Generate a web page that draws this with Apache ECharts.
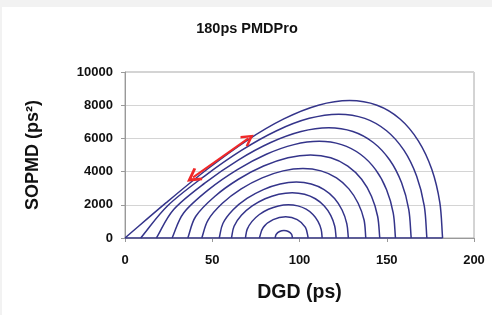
<!DOCTYPE html>
<html>
<head>
<meta charset="utf-8">
<script src="https://cdn.jsdelivr.net/npm/echarts@6/dist/echarts.min.js"></script>
<style>
html,body{margin:0;padding:0;background:#f2f2f2;width:492px;height:315px;overflow:hidden;}
#chart{position:absolute;left:2px;top:7px;width:490px;height:308px;background:#fff;}
</style>
</head>
<body>
<div id="chart"></div>
<script>
// DGD (ps) and SOPMD (ps^2) values, one pair of arrays per curve
var dgd1 = [182, 180.4, 175.8, 168.1, 157.6, 144.4, 128.7, 110.8, 91, 69.6, 47.1, 23.8, 0];
var sop1 = [0, 2143, 4141, 5856, 7172, 7999, 8281, 7999, 7172, 5856, 4141, 2143, 0];
var dgd2 = [173, 171.5, 167.1, 159.9, 149.9, 137.4, 122.5, 105.6, 86.9, 66.7, 45.6, 24.3, 9];
var sop2 = [0, 1931, 3731, 5276, 6462, 7208, 7462, 7208, 6462, 5276, 3731, 1931, 0];
var dgd3 = [164, 162.6, 158.5, 151.7, 142.3, 130.6, 116.7, 100.9, 83.5, 64.9, 45.9, 27.9, 18];
var sop3 = [0, 1719, 3322, 4697, 5753, 6416, 6643, 6416, 5753, 4697, 3322, 1719, 0];
var dgd4 = [155, 153.7, 149.9, 143.6, 134.9, 124.1, 111.3, 96.8, 81.0, 64.4, 47.9, 33.6, 27];
var sop4 = [0, 1507, 2912, 4118, 5044, 5625, 5824, 5625, 5044, 4118, 2912, 1507, 0];
var dgd5 = [146, 144.8, 141.3, 135.6, 127.7, 117.9, 106.3, 93.4, 79.4, 65.0, 51.4, 40.5, 36];
var sop5 = [0, 1295, 2503, 3539, 4334, 4834, 5005, 4834, 4334, 3539, 2503, 1295, 0];
var dgd6 = [138, 137.0, 133.6, 128.3, 121.2, 112.3, 102.0, 90.6, 78.6, 66.6, 55.8, 47.6, 44];
var sop6 = [0, 1083, 2093, 2960, 3625, 4043, 4186, 4043, 3625, 2960, 2093, 1083, 0];
var dgd7 = [128, 127.1, 124.4, 120.1, 114.1, 106.7, 98.2, 88.9, 79.3, 69.9, 61.8, 56.1, 54];
var sop7 = [0, 871, 1684, 2381, 2916, 3252, 3367, 3252, 2916, 2381, 1684, 871, 0];
var dgd8 = [121, 120.2, 117.9, 114.2, 109.1, 102.9, 95.8, 88.1, 80.3, 72.9, 66.7, 62.5, 61];
var sop8 = [0, 707, 1365, 1930, 2364, 2637, 2730, 2637, 2364, 1930, 1365, 707, 0];
var dgd9 = [113, 112.4, 110.6, 107.7, 103.8, 99.0, 93.6, 87.9, 82.2, 77.0, 72.8, 70.0, 69];
var sop9 = [0, 518, 1001, 1416, 1734, 1934, 2002, 1934, 1734, 1416, 1001, 518, 0];
var dgd10 = [105, 103.4, 98.7, 92.1, 84.9, 79.2, 77];
var sop10 = [0, 637, 1103, 1274, 1103, 637, 0];
var dgd11 = [96, 95.4, 93.6, 91.1, 88.6, 86.7, 86];
var sop11 = [0, 228, 394, 455, 394, 228, 0];
// baseline drawn under the curves
var baseDgd = [0, 182];
var baseSop = [0, 0];
// red double-headed arrow end points
var arrowDgd = [39, 70.7];
var arrowSop = [3650, 6000];
// axis ticks
var xTicks = [0, 50, 100, 150, 200];
var yTicks = [0, 2000, 4000, 6000, 8000, 10000];

var curvesX = [dgd1, dgd2, dgd3, dgd4, dgd5, dgd6, dgd7, dgd8, dgd9, dgd10, dgd11];
var curvesY = [sop1, sop2, sop3, sop4, sop5, sop6, sop7, sop8, sop9, sop10, sop11];

function zip(xs, ys) { return xs.map(function (x, i) { return [x, ys[i]]; }); }

var curveColor = '#34348a';

// a smooth curve through the read points, positioned by the axes (api.coord)
function curveSeries(xs, ys) {
  var pts = zip(xs, ys);
  return {
    type: 'custom', data: pts, silent: true, encode: { x: 0, y: 1 },
    renderItem: function (params, api) {
      if (params.dataIndex !== 0) return null;
      var p = pts.map(function (d) { return api.coord(d); });
      var n = p.length;
      var ext = [[2 * p[0][0] - p[1][0], 2 * p[0][1] - p[1][1]]].concat(p,
        [[2 * p[n - 1][0] - p[n - 2][0], 2 * p[n - 1][1] - p[n - 2][1]]]);
      var d = 'M' + p[0][0] + ' ' + p[0][1];
      for (var i = 1; i < n; i++) {
        var a = ext[i - 1], b = ext[i], c = ext[i + 1], e = ext[i + 2];
        var c1x = b[0] + (c[0] - a[0]) / 6, c1y = b[1] + (c[1] - a[1]) / 6;
        var c2x = c[0] - (e[0] - b[0]) / 6, c2y = c[1] - (e[1] - b[1]) / 6;
        d += ' C' + c1x + ' ' + c1y + ' ' + c2x + ' ' + c2y + ' ' + c[0] + ' ' + c[1];
      }
      return {
        type: 'path', shape: { pathData: d },
        style: { fill: 'none', stroke: curveColor, lineWidth: 1.5 }
      };
    }
  };
}

var series = [{
  type: 'line', data: zip(baseDgd, baseSop), showSymbol: false, silent: true,
  lineStyle: { color: curveColor, width: 1.6 }
}];
curvesX.forEach(function (xs, i) { series.push(curveSeries(xs, curvesY[i])); });

var chevron = 'path://M5,0 L10,8.5 L8.5,9.6 L5,3.8 L1.5,9.6 L0,8.5 Z';
series.push({
  type: 'lines', coordinateSystem: 'cartesian2d', silent: true, z: 10,
  symbol: [chevron, chevron],
  symbolSize: [15, 13],
  lineStyle: { color: '#f02828', width: 2, opacity: 1 },
  data: [{ coords: zip(arrowDgd, arrowSop) }]
});

var font = 'Liberation Sans, Arial, sans-serif';
var chart = echarts.init(document.getElementById('chart'), null, { renderer: 'canvas' });
chart.setOption({
  animation: false,
  backgroundColor: '#fff',
  title: {
    text: '180ps PMDPro', left: 'center', top: 9,
    textStyle: { fontFamily: font, fontSize: 14.5, fontWeight: 'bold', color: '#111' }
  },
  grid: { left: 123, right: 18, top: 65, bottom: 77, show: true, borderColor: '#a8a8a8', borderWidth: 1 },
  xAxis: {
    type: 'value', min: xTicks[0], max: xTicks[xTicks.length - 1], interval: 50,
    name: 'DGD (ps)', nameLocation: 'middle', nameGap: 45,
    nameTextStyle: { fontFamily: font, fontSize: 19.5, fontWeight: 'bold', color: '#111' },
    axisLine: { show: true, lineStyle: { color: '#999' } },
    axisTick: { show: true, length: 4, lineStyle: { color: '#999' } },
    axisLabel: { fontFamily: font, fontSize: 13, fontWeight: 'bold', color: '#111', margin: 16 },
    splitLine: { show: false }
  },
  yAxis: {
    type: 'value', min: yTicks[0], max: yTicks[yTicks.length - 1], interval: 2000,
    name: 'SOPMD (ps²)', nameLocation: 'middle', nameGap: 83, nameRotate: 90,
    nameTextStyle: { fontFamily: font, fontSize: 18, fontWeight: 'bold', color: '#111' },
    axisLine: { show: true, lineStyle: { color: '#999' } },
    axisTick: { show: true, length: 4, lineStyle: { color: '#999' } },
    axisLabel: { fontFamily: font, fontSize: 13, fontWeight: 'bold', color: '#111', margin: 12,
      formatter: function (v) { return String(v); } },
    splitLine: { show: true, lineStyle: { color: '#d4d4d4', width: 1 } }
  },
  series: series
});
</script>
</body>
</html>
